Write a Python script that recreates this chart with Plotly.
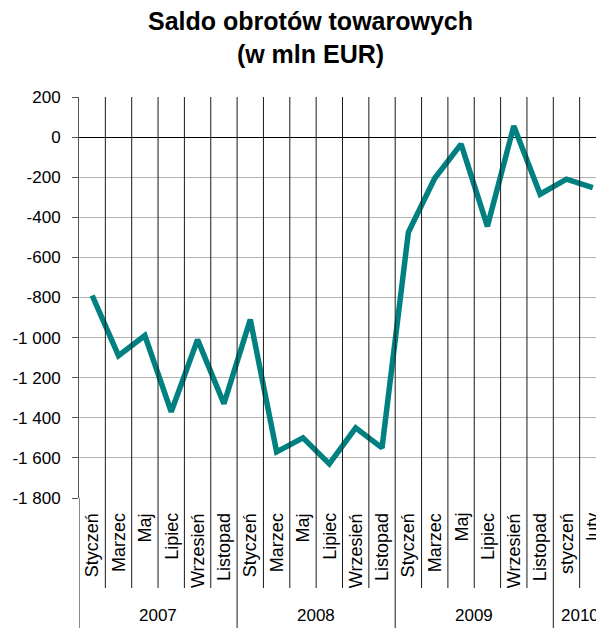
import plotly.graph_objects as go

# --- data ---
month_labels = ["Styczeń", "Marzec", "Maj", "Lipiec", "Wrzesień", "Listopad",
                "Styczeń", "Marzec", "Maj", "Lipiec", "Wrzesień", "Listopad",
                "Styczeń", "Marzec", "Maj", "Lipiec", "Wrzesień", "Listopad",
                "styczeń", "luty"]
year_labels = ["2007", "2008", "2009", "2010"]
year_sizes = [6, 6, 6, 2]
saldo = [-790, -1090, -990, -1370, -1010, -1330,
         -910, -1570, -1500, -1630, -1450, -1550,
         -475, -205, -35, -445, 55, -285,
         -210, -252]
y_tickvals = [200, 0, -200, -400, -600, -800, -1000, -1200, -1400, -1600, -1800]
y_ticktext = ["200", "0", "-200", "-400", "-600", "-800", "-1 000", "-1 200",
              "-1 400", "-1 600", "-1 800"]

FONT = "Arial, Liberation Sans, sans-serif"
x_idx = list(range(len(saldo)))

W, H = 596, 628
L, T = 79, 97
PB = 498                 # plot bottom (px)
PR = W                   # plot reaches the right edge (reference is cropped)
plot_h = PB - T
plot_w = PR - L


def py(y_px):
    return (PB - y_px) / plot_h


def px(x_px):
    return (x_px - L) / plot_w


fig = go.Figure()
fig.add_trace(go.Scatter(
    x=x_idx, y=saldo, mode="lines",
    line=dict(color="#008080", width=5.5),
    hoverinfo="skip", showlegend=False,
))

label_bottom = py(588)
year_bottom = py(660)

year_starts = []
acc = 0
for s in year_sizes:
    year_starts.append(acc)
    acc += s
shapes = []
for k in range(0, len(saldo)):
    xb = k - 0.5
    is_year = k in year_starts
    shapes.append(dict(type="line", xref="x", yref="paper",
                       x0=xb, x1=xb, y0=(year_bottom if is_year else label_bottom),
                       y1=1 if k > 0 else 0,
                       line=dict(color="#1a1a1a", width=1), layer="above"))

annotations = []
for i, lab in enumerate(month_labels):
    annotations.append(dict(x=i, y=py(511), xref="x", yref="paper",
                            text=lab, textangle=-90, showarrow=False,
                            xanchor="center", yanchor="top",
                            font=dict(family=FONT, size=18, color="black")))
for yl, st, sz in zip(year_labels, year_starts, year_sizes):
    cx = st + (sz - 1) / 2
    annotations.append(dict(x=cx, y=py(615), xref="x", yref="paper",
                            text=yl, showarrow=False, xanchor="center", yanchor="middle",
                            font=dict(family=FONT, size=17, color="black")))
# title
annotations.append(dict(x=px(310), y=py(5), xref="paper", yref="paper",
                        text="<b>Saldo obrotów towarowych<br>(w mln EUR)</b>",
                        showarrow=False, xanchor="center", yanchor="top",
                        font=dict(family=FONT, size=25, color="black")))

# x range so that category width matches the reference (~26.35 px)
cat_w = 26.35
x_range = [-0.5, -0.5 + plot_w / cat_w]

fig.update_layout(
    width=W, height=H,
    margin=dict(l=L, r=W - PR, t=T, b=H - PB),
    paper_bgcolor="white", plot_bgcolor="white",
    xaxis=dict(range=x_range, showticklabels=False, showgrid=False,
               zeroline=False, showline=False, ticks=""),
    yaxis=dict(range=[-1800, 200], tickvals=y_tickvals, ticktext=y_ticktext,
               showgrid=True, gridcolor="#b3b3b3", gridwidth=1,
               zeroline=True, zerolinecolor="black", zerolinewidth=1.2,
               showline=True, linecolor="#555555", linewidth=1,
               ticks="outside", ticklen=6, tickcolor="#555555",
               ticklabelstandoff=8,
               tickfont=dict(family=FONT, size=17, color="black")),
    shapes=shapes,
    annotations=annotations,
)

fig.write_html(
    "out.html",
    config={"displayModeBar": False},
    post_script="document.body.style.margin='0px';document.body.style.overflow='hidden';",
)
